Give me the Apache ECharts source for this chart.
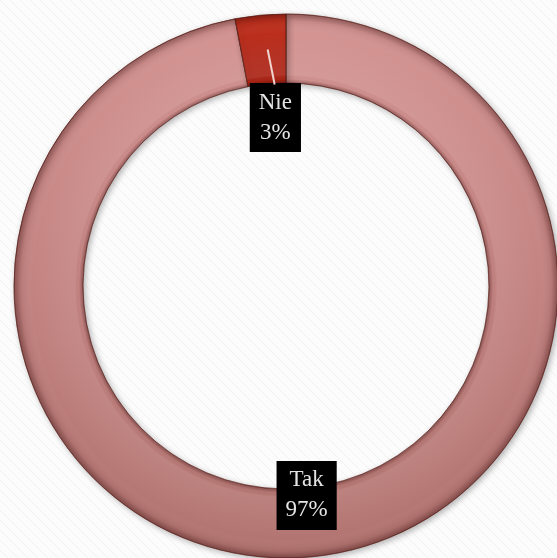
<!DOCTYPE html>
<html>
<head>
<meta charset="utf-8">
<script src="https://cdn.jsdelivr.net/npm/echarts@6/dist/echarts.min.js"></script>
<style>html,body{margin:0;padding:0;background:#fbfbfb;}#c{width:557px;height:558px;}</style>
</head>
<body>
<div id="c"></div>
<script>
const categories = ['Tak', 'Nie'];
const values = [97, 3];
const percentLabels = ['97%', '3%'];

const CX = 286, CY = 286, R_IN = 203, R_OUT = 272;
const NIE_SHIFT = [12, 71];   // label offset of the small slice (toward centre)
const TAK_SHIFT = [-2, -30];

// background pattern (faint diagonal texture)
const pc = document.createElement('canvas');
pc.width = 10; pc.height = 10;
const g = pc.getContext('2d');
g.fillStyle = '#fcfcfc'; g.fillRect(0, 0, 10, 10);
g.strokeStyle = 'rgba(205,205,205,0.22)'; g.lineWidth = 1;
g.beginPath(); g.moveTo(0, 0); g.lineTo(10, 10); g.stroke();
g.beginPath(); g.moveTo(-5, 5); g.lineTo(5, 15); g.stroke();
g.beginPath(); g.moveTo(5, -5); g.lineTo(15, 5); g.stroke();

const baseColors = [
  { type: 'linear', x: 0, y: CY - R_OUT, x2: 0, y2: CY + R_OUT, global: true,
    colorStops: [{ offset: 0, color: '#d49593' }, { offset: 0.5, color: '#c38381' }, { offset: 1, color: '#b27470' }] },
  { type: 'linear', x: 0, y: CY - R_OUT, x2: 0, y2: CY - R_IN, global: true,
    colorStops: [{ offset: 0, color: '#c2321f' }, { offset: 1, color: '#a82416' }] }
];

const bevel = {
  type: 'radial', x: CX, y: CY, r: R_OUT, global: true,
  colorStops: [
    { offset: R_IN / R_OUT, color: 'rgba(40,0,0,0.32)' },
    { offset: R_IN / R_OUT + 0.015, color: 'rgba(40,0,0,0.0)' },
    { offset: R_IN / R_OUT + 0.03, color: 'rgba(255,255,255,0.08)' },
    { offset: 0.93, color: 'rgba(255,255,255,0.0)' },
    { offset: 0.975, color: 'rgba(40,0,0,0.08)' },
    { offset: 1, color: 'rgba(40,0,0,0.38)' }
  ]
};

// leader line of the small slice, derived from the data and the ring geometry
const total = values.reduce((a, b) => a + b, 0);
const nieIdx = 1;
const before = values.slice(0, nieIdx).reduce((a, b) => a + b, 0);
const midDeg = (before + values[nieIdx] / 2) / total * 360;   // clockwise from top
const midRad = midDeg * Math.PI / 180;
const rMid = (R_IN + R_OUT) / 2;
const lx1 = CX + rMid * Math.sin(midRad) + 4, ly1 = CY - rMid * Math.cos(midRad);
const lx2 = lx1 + NIE_SHIFT[0] - 5, ly2 = ly1 + NIE_SHIFT[1] - 36;

const chart = echarts.init(document.getElementById('c'), null, { renderer: 'canvas' });
chart.setOption({
  backgroundColor: { image: pc, repeat: 'repeat' },
  animation: false,
  graphic: [{
    type: 'line', z: 100, silent: true,
    shape: { x1: lx1, y1: ly1, x2: lx2, y2: ly2 },
    style: { stroke: '#f1d3cf', lineWidth: 2 }
  }],
  series: [
    {
      type: 'pie',
      center: [CX, CY],
      radius: [R_IN, R_OUT],
      startAngle: 90,
      clockwise: true,
      silent: true,
      z: 2,
      itemStyle: {
        borderColor: 'rgba(90,30,25,0.5)', borderWidth: 1,
        shadowBlur: 6, shadowColor: 'rgba(0,0,0,0.3)', shadowOffsetX: 2, shadowOffsetY: 2
      },
      label: { show: false },
      labelLine: { show: false },
      data: categories.map((c, i) => ({ name: c, value: values[i], itemStyle: { color: baseColors[i] } }))
    },
    {
      type: 'pie',
      center: [CX, CY],
      radius: [R_IN, R_OUT],
      startAngle: 90,
      clockwise: true,
      silent: true,
      z: 3,
      itemStyle: { color: bevel, borderColor: 'rgba(90,30,25,0.45)', borderWidth: 1 },
      label: {
        show: true,
        position: 'inside',
        formatter: p => categories[p.dataIndex] + '\n' + percentLabels[p.dataIndex],
        backgroundColor: '#000',
        color: '#e4e4e4',
        fontFamily: 'Liberation Serif',
        fontSize: 23,
        lineHeight: 30,
        padding: [5, 9, 4, 9],
        textShadowColor: 'rgba(0,0,0,0.6)', textShadowBlur: 2
      },
      labelLine: { show: false },
      labelLayout: function (p) {
        const s = p.dataIndex === nieIdx ? NIE_SHIFT : TAK_SHIFT;
        return { dx: s[0], dy: s[1] };
      },
      data: categories.map((c, i) => ({ name: c, value: values[i] }))
    }
  ]
});
</script>
</body>
</html>
